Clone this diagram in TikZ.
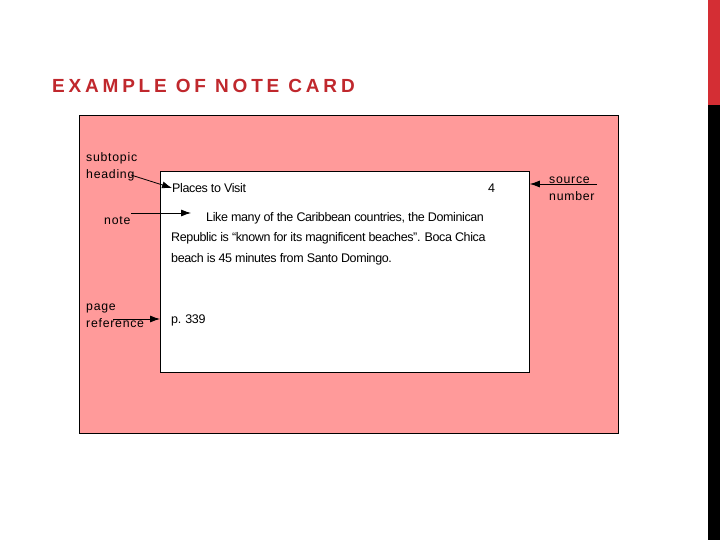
\documentclass[tikz,border=0pt]{standalone}
\usepackage{fontspec}
\setmainfont{Liberation Sans}
\newfontfamily\titlefont[LetterSpace=20]{Liberation Sans}
\newfontfamily\labelfont[LetterSpace=6]{Liberation Sans}
\newfontfamily\cardfont[LetterSpace=-3]{Liberation Sans}
\usetikzlibrary{arrows.meta}
\definecolor{titlered}{HTML}{C0282D}
\definecolor{pink}{HTML}{FF9A9A}
\definecolor{barred}{HTML}{D42E34}
\begin{document}
\begin{tikzpicture}[x=1pt,y=-1pt,
  lbl/.style={inner sep=0pt,anchor=west,font=\labelfont\fontsize{12.3}{17}\selectfont,align=left},
  cardtxt/.style={inner sep=0pt,anchor=west,font=\cardfont\fontsize{12.5}{14}\selectfont},
  arr/.style={-{Latex[length=10pt,width=7pt]},line width=0.8pt}]
\useasboundingbox (0,0) rectangle (720,540);
\fill[white] (0,0) rectangle (720,540);
% right bar
\fill[barred] (708,0) rectangle (720,105);
\fill[black] (708,105) rectangle (720,540);
% title
\node[inner sep=0pt,anchor=west,text=titlered,font=\titlefont\bfseries\fontsize{19}{22}\selectfont] (title) at (52,86) {EXAMPLE OF NOTE CARD};
% pink panel
\node[draw=black,fill=pink,line width=0.8pt,minimum width=539pt,minimum height=318pt,anchor=north west,inner sep=0pt] (panel) at (79,115) {};
% card
\node[draw=black,fill=white,line width=0.8pt,minimum width=369pt,minimum height=201pt,anchor=north west,inner sep=0pt] (card) at (160,171) {};
% card texts
\node[cardtxt] (heading) at (172,188) {Places to Visit};
\node[cardtxt] (num) at (488,188) {4};
\node[cardtxt] (l1) at (206,218) {Like many of the Caribbean countries, the Dominican};
\node[cardtxt] (l2) at (171,238) {Republic is “known for its magnificent beaches”. Boca Chica};
\node[cardtxt] (l3) at (171,259) {beach is 45 minutes from Santo Domingo.};
\node[cardtxt] (page) at (171,320) {p. 339};
% labels
\node[lbl] (sub) at (86,167) {subtopic\\heading};
\node[lbl] (note) at (104,221) {note};
\node[lbl] (pref) at (86,316) {page\\reference};
\node[lbl] (src) at (549,189) {source\\number};
% arrow coordinates
\coordinate (s0) at (131,175);
\coordinate (n0) at (131,213);
\coordinate (n1) at (191,213);
\coordinate (p0) at (113,319);
\coordinate (r0) at (597,184);
\draw[arr] (s0) -- (heading.west);
\draw[arr] (n0) -- (n1);
\draw[arr] (p0) -- (card.west |- p0);
\draw[arr] (r0) -- (card.east |- r0);
\end{tikzpicture}
\end{document}
